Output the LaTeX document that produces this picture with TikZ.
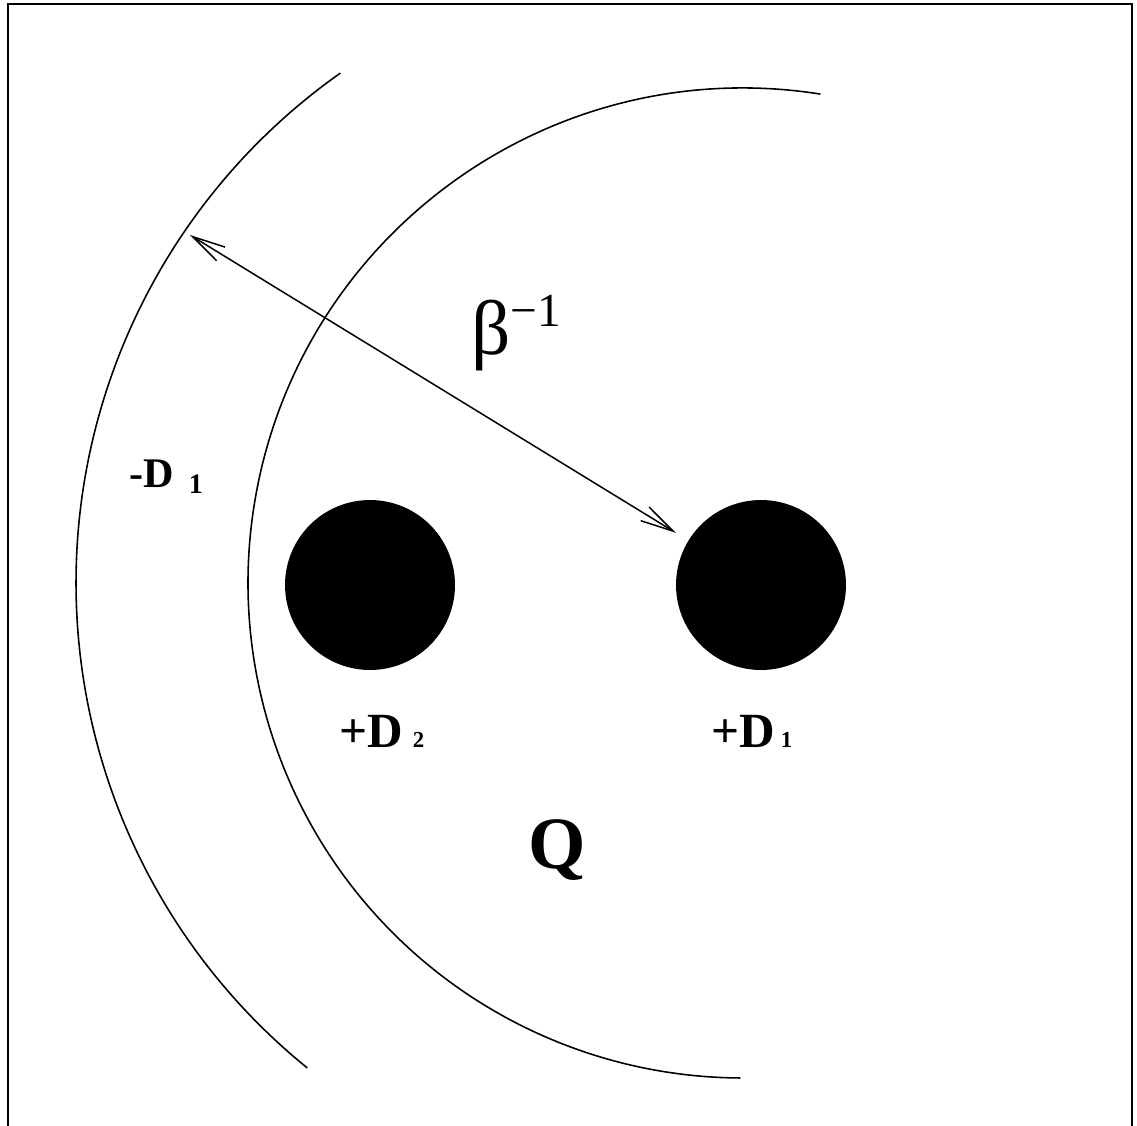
\documentclass[tikz,border=0pt]{standalone}
\usepackage{fontspec}
\setmainfont{Liberation Serif}
\usetikzlibrary{arrows.meta,positioning}
\tikzset{
  rim/.style={line width=0.9pt, draw=black},
  disk/.style={circle, fill=black, minimum size=3.4cm, inner sep=0pt, outer sep=0pt},
  dimarrow/.style={{Straight Barb[length=6.6mm,width=3.2mm]}-{Straight Barb[length=6.6mm,width=3.2mm]}, line width=0.85pt},
  charge/.style={anchor=base west, inner sep=0pt, font=\bfseries},
}
\begin{document}
\begin{tikzpicture}[x=0.02cm,y=0.02cm]

\useasboundingbox (0,0) rectangle (1137,-1126);
\draw[line width=1.2pt] (8,-4) rectangle (1132,-1160);

% centres of the two arcs
\coordinate (cout) at (700,-583);
\coordinate (cin) at (743,-583);

\draw[rim] (cout) ++(125.2:624) arc[start angle=125.2, end angle=231, radius=624];
\draw[rim] (cin) ++(81:495) arc[start angle=81, end angle=269.7, radius=495];

\node[disk] (dtwo) at (370,-585) {};
\node[disk] (done) at (761,-585) {};

\coordinate (edge) at (190,-235);
\draw[dimarrow, shorten >=0.3cm] (edge) -- (done);

\node[anchor=base west, inner sep=0pt] (beta) at (471,-354)
  {\fontsize{44}{46}\selectfont β\raisebox{0.56cm}{\fontsize{27}{29}\selectfont −1}};

\node[charge] (lminus) at (129,-487)
  {\fontsize{24}{26}\selectfont -D\hspace{0.3cm}\raisebox{-0.12cm}{\fontsize{16}{18}\selectfont 1}};
\node[charge] (ltwo) at (339,-747)
  {\fontsize{28}{30}\selectfont +D\hspace{0.2cm}{\fontsize{13}{15}\selectfont 2}};
\node[charge] (lone) at (711,-747)
  {\fontsize{28}{30}\selectfont +D\hspace{0.12cm}{\fontsize{13}{15}\selectfont 1}};

\node[charge] (lq) at (528,-868) {\fontsize{42}{44}\selectfont Q};

\end{tikzpicture}
\end{document}
